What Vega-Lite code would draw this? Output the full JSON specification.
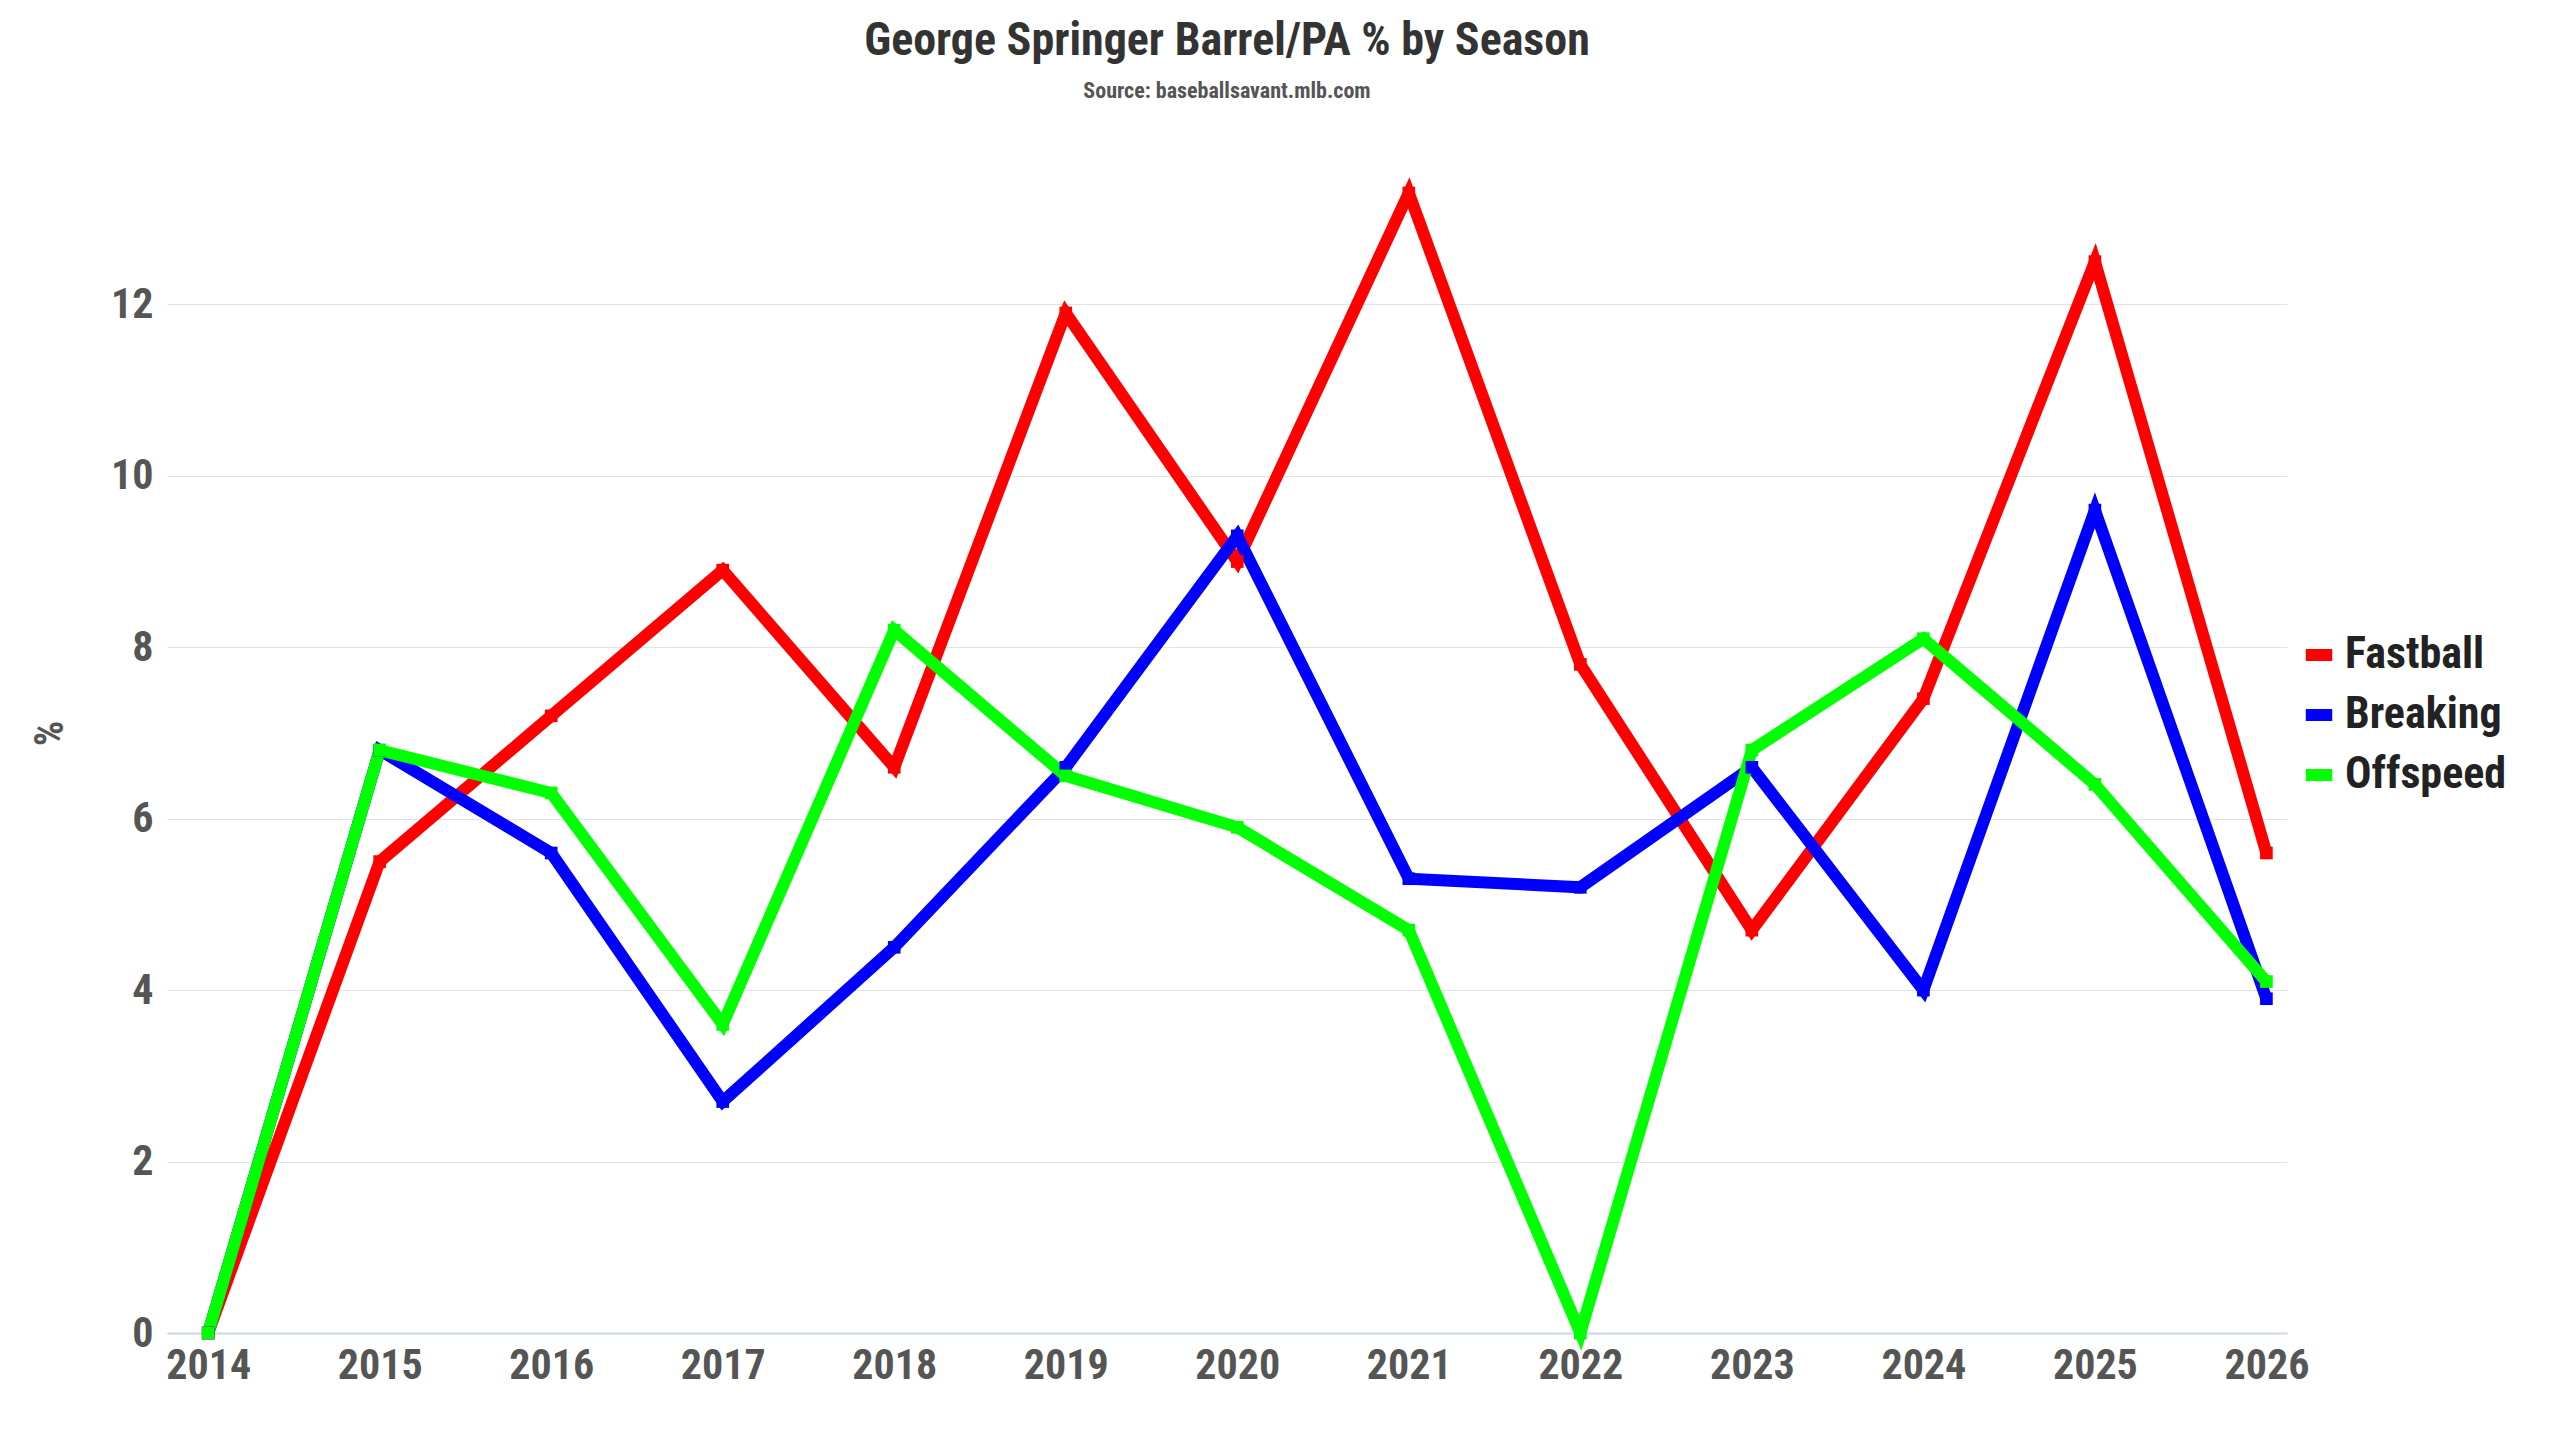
{
  "$schema": "https://vega.github.io/schema/vega-lite/v6.json",
  "width": 2120,
  "height": 1200,
  "background": "white",
  "padding": {"left": 30, "right": 20, "top": 18, "bottom": 20},
  "title": {
    "text": "George Springer Barrel/PA % by Season",
    "subtitle": "Source: baseballsavant.mlb.com",
    "font": "Roboto Condensed, Liberation Sans Narrow, Roboto",
    "subtitleFont": "Roboto Condensed, Liberation Sans Narrow, Roboto",
    "fontSize": 46,
    "subtitleFontSize": 22,
    "subtitleFontWeight": "bold",
    "subtitlePadding": 16,
    "color": "#333",
    "subtitleColor": "#555",
    "offset": 30
  },
  "config": {
    "font": "Roboto Condensed, Liberation Sans Narrow, Roboto",
    "view": {"stroke": null},
    "axis": {
      "labelFontSize": 42,
      "labelFontWeight": "bold",
      "labelColor": "#555",
      "titleFontSize": 40,
      "titleColor": "#555",
      "titleFontWeight": "bold",
      "gridColor": "#e3e3e3",
      "domain": false,
      "ticks": false
    },
    "legend": {
      "labelFontSize": 44,
      "labelFontWeight": "bold",
      "labelColor": "#222",
      "labelLimit": 400,
      "symbolStrokeWidth": 12,
      "symbolSize": 700,
      "rowPadding": 12
    }
  },
  "data": {
    "values": [
      {"Season": 2014, "Type": "Fastball", "Value": 0},
      {"Season": 2015, "Type": "Fastball", "Value": 5.5},
      {"Season": 2016, "Type": "Fastball", "Value": 7.2},
      {"Season": 2017, "Type": "Fastball", "Value": 8.9},
      {"Season": 2018, "Type": "Fastball", "Value": 6.6},
      {"Season": 2019, "Type": "Fastball", "Value": 11.9},
      {"Season": 2020, "Type": "Fastball", "Value": 9.0},
      {"Season": 2021, "Type": "Fastball", "Value": 13.3},
      {"Season": 2022, "Type": "Fastball", "Value": 7.8},
      {"Season": 2023, "Type": "Fastball", "Value": 4.7},
      {"Season": 2024, "Type": "Fastball", "Value": 7.4},
      {"Season": 2025, "Type": "Fastball", "Value": 12.5},
      {"Season": 2026, "Type": "Fastball", "Value": 5.6},
      {"Season": 2014, "Type": "Breaking", "Value": 0},
      {"Season": 2015, "Type": "Breaking", "Value": 6.8},
      {"Season": 2016, "Type": "Breaking", "Value": 5.6},
      {"Season": 2017, "Type": "Breaking", "Value": 2.7},
      {"Season": 2018, "Type": "Breaking", "Value": 4.5},
      {"Season": 2019, "Type": "Breaking", "Value": 6.6},
      {"Season": 2020, "Type": "Breaking", "Value": 9.3},
      {"Season": 2021, "Type": "Breaking", "Value": 5.3},
      {"Season": 2022, "Type": "Breaking", "Value": 5.2},
      {"Season": 2023, "Type": "Breaking", "Value": 6.6},
      {"Season": 2024, "Type": "Breaking", "Value": 4.0},
      {"Season": 2025, "Type": "Breaking", "Value": 9.6},
      {"Season": 2026, "Type": "Breaking", "Value": 3.9},
      {"Season": 2014, "Type": "Offspeed", "Value": 0},
      {"Season": 2015, "Type": "Offspeed", "Value": 6.8},
      {"Season": 2016, "Type": "Offspeed", "Value": 6.3},
      {"Season": 2017, "Type": "Offspeed", "Value": 3.6},
      {"Season": 2018, "Type": "Offspeed", "Value": 8.2},
      {"Season": 2019, "Type": "Offspeed", "Value": 6.5},
      {"Season": 2020, "Type": "Offspeed", "Value": 5.9},
      {"Season": 2021, "Type": "Offspeed", "Value": 4.7},
      {"Season": 2022, "Type": "Offspeed", "Value": 0},
      {"Season": 2023, "Type": "Offspeed", "Value": 6.8},
      {"Season": 2024, "Type": "Offspeed", "Value": 8.1},
      {"Season": 2025, "Type": "Offspeed", "Value": 6.4},
      {"Season": 2026, "Type": "Offspeed", "Value": 4.1}
    ]
  },
  "mark": {"type": "line", "strokeWidth": 12, "point": {"shape": "square", "size": 160, "filled": true}},
  "encoding": {
    "x": {
      "field": "Season",
      "type": "quantitative",
      "title": null,
      "scale": {"domain": [2013.76, 2026.12], "nice": false, "zero": false},
      "axis": {"values": [2014, 2015, 2016, 2017, 2018, 2019, 2020, 2021, 2022, 2023, 2024, 2025, 2026], "format": "d", "grid": false, "domain": true, "domainColor": "#ccd6eb", "domainWidth": 2, "labelPadding": 12}
    },
    "y": {
      "field": "Value",
      "type": "quantitative",
      "title": "%",
      "scale": {"domain": [0, 14], "nice": false},
      "axis": {"values": [0, 2, 4, 6, 8, 10, 12], "titlePadding": 40, "labelPadding": 14}
    },
    "color": {
      "field": "Type",
      "type": "nominal",
      "title": null,
      "sort": ["Fastball", "Breaking", "Offspeed"],
      "scale": {"domain": ["Fastball", "Breaking", "Offspeed"], "range": ["#ff0000", "#0000ff", "#00ff00"]},
      "legend": {"symbolType": "stroke", "orient": "none", "legendX": 2130, "legendY": 500}
    }
  }
}
